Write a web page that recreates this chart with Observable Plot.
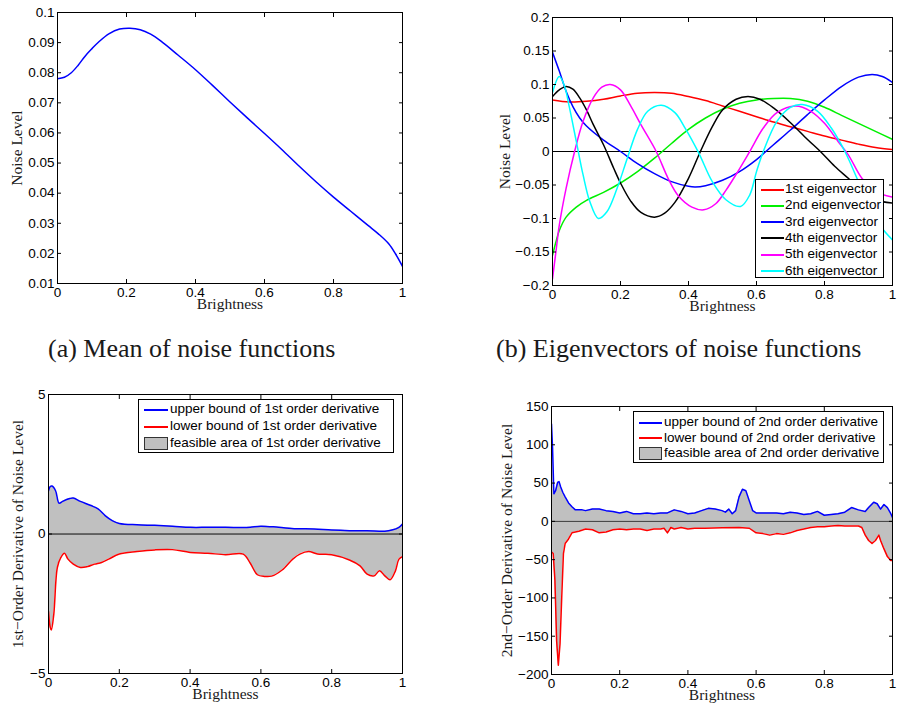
<!DOCTYPE html>
<html><head><meta charset="utf-8">
<script src="https://cdn.jsdelivr.net/npm/d3@7"></script>
<script src="https://cdn.jsdelivr.net/npm/@observablehq/plot@0.6"></script>
<style>
body{margin:0;background:#fff;}
#root{position:relative;width:907px;height:708px;overflow:hidden;background:#fff;}
.panel{position:absolute;}
.cap{position:absolute;font-family:"Liberation Serif","Times New Roman",serif;font-size:26px;line-height:26px;color:#1a1a1a;white-space:nowrap;}
.leg{position:absolute;background:#fff;border:1.5px solid #000;box-sizing:border-box;font-family:"Liberation Sans",Arial,sans-serif;font-size:13.5px;color:#000;}
.leg span{position:absolute;white-space:nowrap;line-height:16px;}
.leg .ln{position:absolute;height:2px;}
.leg .pt{position:absolute;background:#c0c0c0;border:1px solid #333;box-sizing:border-box;}
</style></head>
<body><div id="root"></div>
<script>
// ---------- data ----------
const xTicks = [0, 0.2, 0.4, 0.6, 0.8, 1];
const xLabel = "Brightness";

// (a) mean of noise functions
const meanX = [0,0.02,0.04,0.06,0.08,0.1,0.12,0.15,0.18,0.21,0.24,0.27,0.3,0.35,0.4,0.45,0.5,0.55,0.6,0.65,0.7,0.75,0.8,0.85,0.9,0.93,0.96,0.98,1.0];
const meanY = [0.0780,0.0785,0.0800,0.0825,0.0855,0.0880,0.0903,0.0930,0.0945,0.0948,0.0943,0.0928,0.0905,0.0858,0.0810,0.0757,0.0703,0.0650,0.0598,0.0545,0.0490,0.0437,0.0387,0.0340,0.0293,0.0265,0.0232,0.0198,0.0157];
const yTicksA = [0.01,0.02,0.03,0.04,0.05,0.06,0.07,0.08,0.09,0.1];

// (b) eigenvectors
const evNames = ["1st eigenvector","2nd eigenvector","3rd eigenvector","4th eigenvector","5th eigenvector","6th eigenvector"];
const evColors = ["#ff0000","#00f000","#0000ff","#000000","#ff00ff","#00ffff"];
const ev1X = [0,0.05,0.1,0.15,0.2,0.25,0.3,0.35,0.4,0.45,0.5,0.55,0.6,0.65,0.7,0.75,0.8,0.85,0.9,0.95,1];
const ev1Y = [0.077,0.074,0.075,0.078,0.083,0.087,0.088,0.087,0.082,0.076,0.068,0.060,0.052,0.044,0.037,0.030,0.023,0.017,0.011,0.006,0.003];
const ev2X = [0,0.01,0.02,0.04,0.07,0.1,0.15,0.2,0.25,0.3,0.35,0.4,0.45,0.5,0.55,0.6,0.65,0.7,0.75,0.8,0.85,0.9,0.95,1];
const ev2Y = [-0.155,-0.135,-0.118,-0.098,-0.083,-0.073,-0.061,-0.047,-0.03,-0.01,0.012,0.033,0.05,0.063,0.072,0.077,0.079,0.079,0.075,0.066,0.054,0.042,0.030,0.018];
const ev3X = [0,0.02,0.04,0.06,0.08,0.1,0.15,0.2,0.25,0.3,0.35,0.4,0.42,0.45,0.5,0.55,0.6,0.65,0.7,0.75,0.8,0.85,0.9,0.94,0.97,1];
const ev3Y = [0.148,0.12,0.09,0.067,0.05,0.038,0.017,0.0,-0.018,-0.033,-0.045,-0.052,-0.053,-0.051,-0.043,-0.030,-0.012,0.01,0.032,0.055,0.077,0.097,0.111,0.115,0.112,0.103];
const ev4X = [0,0.02,0.04,0.06,0.08,0.1,0.12,0.15,0.18,0.2,0.23,0.26,0.3,0.33,0.36,0.4,0.435,0.47,0.5,0.54,0.575,0.61,0.65,0.7,0.75,0.79,0.83,0.87,0.91,0.95,1];
const ev4Y = [0.082,0.092,0.097,0.093,0.080,0.062,0.040,0.010,-0.025,-0.047,-0.074,-0.091,-0.098,-0.092,-0.076,-0.040,0.0,0.037,0.062,0.078,0.082,0.078,0.065,0.043,0.018,-0.001,-0.022,-0.040,-0.058,-0.072,-0.077];
const ev5X = [0,0.01,0.02,0.04,0.065,0.09,0.12,0.145,0.17,0.2,0.23,0.26,0.305,0.34,0.37,0.41,0.445,0.48,0.51,0.545,0.58,0.62,0.66,0.715,0.76,0.8,0.84,0.87,0.91,0.95,1];
const ev5Y = [-0.19,-0.15,-0.11,-0.055,0.0,0.045,0.08,0.096,0.1,0.092,0.068,0.04,0.0,-0.04,-0.066,-0.083,-0.087,-0.078,-0.058,-0.03,0.0,0.035,0.058,0.068,0.06,0.042,0.015,-0.005,-0.04,-0.06,-0.068];
const ev6X = [0,0.02,0.035,0.05,0.07,0.09,0.11,0.135,0.16,0.19,0.22,0.25,0.28,0.32,0.36,0.39,0.43,0.47,0.51,0.553,0.58,0.6,0.62,0.66,0.7,0.735,0.78,0.82,0.86,0.9,0.94,0.97,1];
const ev6Y = [0.088,0.112,0.098,0.065,0.015,-0.035,-0.075,-0.1,-0.09,-0.055,-0.01,0.033,0.06,0.069,0.058,0.035,-0.002,-0.045,-0.072,-0.082,-0.065,-0.03,0.0,0.045,0.066,0.07,0.06,0.035,0.0,-0.045,-0.09,-0.115,-0.132];
const yTicksB = [-0.2,-0.15,-0.1,-0.05,0,0.05,0.1,0.15,0.2];

// (c) first-order derivative bounds
const up1X = [0,0.005,0.01,0.02,0.03,0.04,0.06,0.07,0.09,0.12,0.14,0.16,0.18,0.2,0.25,0.3,0.35,0.4,0.45,0.5,0.55,0.57,0.6,0.65,0.7,0.75,0.8,0.85,0.9,0.95,0.97,0.99,1];
const up1Y = [1.55,1.7,1.72,1.55,1.1,1.17,1.27,1.29,1.17,1.02,0.9,0.66,0.48,0.38,0.33,0.31,0.28,0.24,0.24,0.24,0.23,0.24,0.28,0.24,0.19,0.18,0.14,0.12,0.12,0.1,0.14,0.24,0.36];
const lo1X = [0,0.005,0.008,0.015,0.025,0.035,0.045,0.055,0.07,0.09,0.11,0.13,0.15,0.17,0.2,0.25,0.3,0.35,0.4,0.45,0.5,0.55,0.57,0.59,0.61,0.63,0.66,0.69,0.71,0.735,0.76,0.8,0.85,0.88,0.9,0.92,0.935,0.95,0.965,0.98,0.99,1];
const lo1Y = [-2.78,-3.35,-3.44,-2.87,-1.2,-0.84,-0.69,-0.9,-1.08,-1.2,-1.17,-1.08,-1.02,-0.9,-0.72,-0.63,-0.57,-0.56,-0.66,-0.69,-0.74,-0.72,-1.05,-1.46,-1.52,-1.51,-1.29,-0.9,-0.72,-0.63,-0.72,-0.74,-0.93,-1.14,-1.44,-1.5,-1.32,-1.5,-1.64,-1.32,-0.9,-0.81];
const yTicksC = [-5, 0, 5];
const legC = ["upper bound of 1st order derivative","lower bound of 1st order derivative","feasible area of 1st order derivative"];

// (d) second-order derivative bounds
const up2X = [0,0.003,0.007,0.012,0.018,0.022,0.027,0.033,0.04,0.05,0.06,0.07,0.09,0.1,0.12,0.14,0.16,0.18,0.2,0.22,0.24,0.26,0.28,0.3,0.32,0.34,0.36,0.38,0.4,0.42,0.44,0.46,0.48,0.5,0.51,0.52,0.53,0.54,0.55,0.56,0.57,0.58,0.59,0.6,0.62,0.64,0.66,0.68,0.7,0.72,0.74,0.76,0.78,0.8,0.82,0.84,0.86,0.88,0.9,0.92,0.93,0.945,0.955,0.965,0.975,0.985,0.995,1];
const up2Y = [127,97,36,40,51,52,45,38,32,24,19,15,15,14,16,16,14,13,11,13,10,10,11,10,11,11,15,13,10,11,14,17,16,14,12,16,10,14,32,42,40,27,14,11,11,11,11,10,12,11,9,10,13,8,9,10,12,18,15,13,18,25,23,16,22,18,10,5];
const lo2X = [0,0.005,0.01,0.015,0.02,0.025,0.03,0.035,0.04,0.05,0.06,0.08,0.1,0.12,0.14,0.16,0.18,0.2,0.22,0.24,0.26,0.28,0.3,0.32,0.33,0.34,0.35,0.36,0.38,0.4,0.42,0.45,0.5,0.55,0.58,0.6,0.62,0.64,0.66,0.68,0.7,0.72,0.74,0.76,0.78,0.8,0.82,0.84,0.86,0.88,0.9,0.91,0.92,0.93,0.94,0.95,0.96,0.965,0.975,0.985,0.995,1];
const lo2Y = [-40,-42,-77,-156,-188,-160,-99,-42,-29,-23,-15,-13,-10,-11,-15,-14,-11,-10,-11,-10,-10,-12,-10,-10,-9,-15,-8,-10,-8,-10,-9,-9,-8.5,-8,-9,-15,-16,-18,-16,-17,-15,-12,-10,-8,-7,-7,-6,-5.5,-6,-6,-6,-8,-18,-25,-29,-25,-18,-25,-36,-46,-51,-51];
const yTicksD = [-200,-150,-100,-50,0,50,100,150];
const legD = ["upper bound of 2nd order derivative","lower bound of 2nd order derivative","feasible area of 2nd order derivative"];

// ---------- drawing ----------
const SANS = '"Liberation Sans", Arial, Helvetica, sans-serif';
const SERIF = '"Liberation Serif", "Times New Roman", serif';
const fmt = d => String(+(+d).toFixed(4)).replace("-", "\u2212");
const pts = (xs, ys) => xs.map((x, i) => ({x, y: ys[i]}));
const root = document.getElementById("root");

function panel({left, top, width, height, mt, mr, mb, ml, yDomain, yTicks, yLabel, yDx, marks}) {
  const svg = Plot.plot({
    width, height, marginTop: mt, marginRight: mr, marginBottom: mb, marginLeft: ml,
    x: {domain: [0, 1]},
    y: {domain: yDomain},
    style: {fontFamily: SANS, fontSize: "13.5px", color: "#000", background: "transparent", overflow: "visible"},
    marks: [
      ...marks,
      Plot.frame({stroke: "#000", strokeWidth: 1}),
      Plot.axisX({anchor: "bottom", ticks: xTicks, tickSize: -4, tickPadding: 8, tickFormat: fmt, label: null}),
      Plot.axisX({anchor: "top", ticks: xTicks, tickSize: -4, tickFormat: () => "", label: null}),
      Plot.axisY({anchor: "left", ticks: yTicks, tickSize: -4, tickPadding: 7, tickFormat: fmt, label: null}),
      Plot.axisY({anchor: "right", ticks: yTicks, tickSize: -4, tickFormat: () => "", label: null}),
      Plot.text([xLabel], {text: d => d, frameAnchor: "bottom", dy: 25, fontFamily: SERIF, fontSize: 15.5, fill: "#1a1a1a"}),
      Plot.text([yLabel], {text: d => d, frameAnchor: "left", textAnchor: "middle", rotate: -90, dx: yDx, fontFamily: SERIF, fontSize: 15.5, fill: "#1a1a1a"})
    ]
  });
  svg.classList.add("panel");
  svg.style.left = left + "px";
  svg.style.top = top + "px";
  root.appendChild(svg);
}

function legend({left, top, w, h, rows, sx0, sx1, tx}) {
  const d = document.createElement("div");
  d.className = "leg";
  Object.assign(d.style, {left: left + "px", top: top + "px", width: w + "px", height: h + "px"});
  for (const r of rows) {
    if (r.patch) {
      const p = document.createElement("div");
      p.className = "pt";
      Object.assign(p.style, {left: sx0 + "px", width: (sx1 - sx0) + "px", top: (r.cy - 6.5) + "px", height: "13px"});
      d.appendChild(p);
    } else {
      const l = document.createElement("div");
      l.className = "ln";
      Object.assign(l.style, {left: sx0 + "px", width: (sx1 - sx0) + "px", top: (r.cy - 1) + "px", background: r.color});
      d.appendChild(l);
    }
    const s = document.createElement("span");
    s.textContent = r.text;
    Object.assign(s.style, {left: tx + "px", top: (r.cy - 8.5) + "px"});
    d.appendChild(s);
  }
  root.appendChild(d);
}

function caption(text, left, top) {
  const c = document.createElement("div");
  c.className = "cap";
  c.textContent = text;
  Object.assign(c.style, {left: left + "px", top: top + "px"});
  root.appendChild(c);
}

const lineOpts = (stroke, curve) => ({x: "x", y: "y", stroke, strokeWidth: 1.5, curve, clip: true});

// (a)
panel({left: 0, top: 0, width: 420, height: 320, mt: 12, mr: 18, mb: 37, ml: 57,
  yDomain: [0.01, 0.1], yTicks: yTicksA, yLabel: "Noise Level", yDx: -40,
  marks: [Plot.line(pts(meanX, meanY), lineOpts("#0000ff", "catmull-rom"))]});

// (b)
const evX = [ev1X, ev2X, ev3X, ev4X, ev5X, ev6X];
const evY = [ev1Y, ev2Y, ev3Y, ev4Y, ev5Y, ev6Y];
panel({left: 480, top: 0, width: 427, height: 320, mt: 17, mr: 15, mb: 35, ml: 72,
  yDomain: [-0.2, 0.2], yTicks: yTicksB, yLabel: "Noise Level", yDx: -47,
  marks: [
    Plot.ruleY([0], {stroke: "#000", strokeWidth: 1}),
    ...evX.map((xs, k) => Plot.line(pts(xs, evY[k]), lineOpts(evColors[k], "catmull-rom")))
  ]});
legend({left: 755, top: 179, w: 129, h: 99, sx0: 5, sx1: 28, tx: 29,
  rows: evNames.map((t, i) => ({text: t, color: evColors[i], cy: 9.5 + 16.3 * i}))});

// (c)
panel({left: 0, top: 380, width: 420, height: 328, mt: 14, mr: 18, mb: 35, ml: 48,
  yDomain: [-5, 5], yTicks: yTicksC, yLabel: "1st\u2212Order Derivative of Noise Level", yDx: -30,
  marks: [
    Plot.areaY(pts(up1X, up1Y), {x: "x", y: "y", fill: "#c0c0c0", curve: "catmull-rom"}),
    Plot.areaY(pts(lo1X, lo1Y), {x: "x", y: "y", fill: "#c0c0c0", curve: "catmull-rom"}),
    Plot.ruleY([0], {stroke: "#000", strokeWidth: 1}),
    Plot.line(pts(up1X, up1Y), lineOpts("#0000ff", "catmull-rom")),
    Plot.line(pts(lo1X, lo1Y), lineOpts("#ff0000", "catmull-rom"))
  ]});
legend({left: 138, top: 399, w: 256, h: 54, sx0: 5, sx1: 29, tx: 31,
  rows: [{text: legC[0], color: "#0000ff", cy: 9.5}, {text: legC[1], color: "#ff0000", cy: 26.5}, {text: legC[2], patch: true, cy: 43.5}]});

// (d)
panel({left: 470, top: 380, width: 437, height: 328, mt: 26, mr: 15, mb: 34, ml: 81,
  yDomain: [-200, 150], yTicks: yTicksD, yLabel: "2nd\u2212Order Derivative of Noise Level", yDx: -44,
  marks: [
    Plot.areaY(pts(up2X, up2Y), {x: "x", y: "y", fill: "#c0c0c0"}),
    Plot.areaY(pts(lo2X, lo2Y), {x: "x", y: "y", fill: "#c0c0c0"}),
    Plot.ruleY([0], {stroke: "#333", strokeWidth: 1}),
    Plot.line(pts(up2X, up2Y), lineOpts("#0000ff", "linear")),
    Plot.line(pts(lo2X, lo2Y), lineOpts("#ff0000", "linear"))
  ]});
legend({left: 633, top: 411, w: 251, h: 52, sx0: 5, sx1: 28, tx: 30,
  rows: [{text: legD[0], color: "#0000ff", cy: 10.5}, {text: legD[1], color: "#ff0000", cy: 26}, {text: legD[2], patch: true, cy: 41.5}]});

caption("(a) Mean of noise functions", 48, 336);
caption("(b) Eigenvectors of noise functions", 496, 336);
</script>
</body></html>
